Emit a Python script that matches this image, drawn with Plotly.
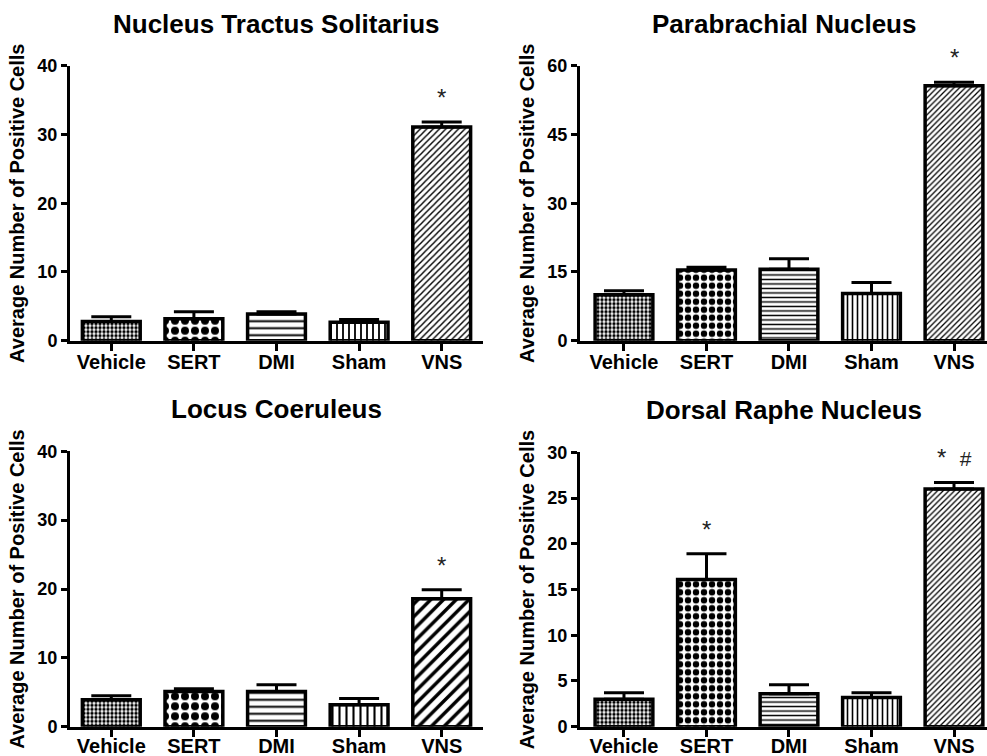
import plotly.graph_objects as go

categories = ["Vehicle", "SERT", "DMI", "Sham", "VNS"]

nts_mean = [2.8, 3.2, 3.9, 2.7, 31.1]
nts_sem = [0.7, 1.0, 0.3, 0.4, 0.7]
pbn_mean = [10.0, 15.4, 15.6, 10.3, 55.6]
pbn_sem = [0.9, 0.6, 2.3, 2.4, 0.8]
lc_mean = [3.9, 5.1, 5.1, 3.2, 18.6]
lc_sem = [0.6, 0.4, 1.0, 0.9, 1.3]
drn_mean = [3.0, 16.1, 3.6, 3.2, 26.0]
drn_sem = [0.7, 2.8, 1.0, 0.5, 0.7]

nts_sig = ["", "", "", "", "*"]
pbn_sig = ["", "", "", "", "*"]
lc_sig = ["", "", "", "", "*"]
drn_sig = ["", "*", "", "", "* #"]

titles = ["Nucleus Tractus Solitarius", "Parabrachial Nucleus",
          "Locus Coeruleus", "Dorsal Raphe Nucleus"]
nts_ticks = [0, 10, 20, 30, 40]
pbn_ticks = [0, 15, 30, 45, 60]
lc_ticks = [0, 10, 20, 30, 40]
drn_ticks = [0, 5, 10, 15, 20, 25, 30]
y_title = "Average Number of Positive Cells"

FONT = "Liberation Sans, Arial, sans-serif"
W, H = 987, 756

SHAPES = [".", ".", "-", "|", "/"]
COARSE = dict(size=[4, 10, 7, 6, 4.5], solid=[0.55, 0.5, 0.28, 0.3, 0.32])
FINE = dict(size=[4, 8, 4.5, 5, 4], solid=[0.55, 0.5, 0.32, 0.32, 0.32])
LCPAT = dict(size=[4, 10, 7, 7, 9], solid=[0.55, 0.5, 0.28, 0.3, 0.38])

panels = [
    dict(mean=nts_mean, sem=nts_sem, sig=nts_sig, ticks=nts_ticks, title=titles[0], pat=COARSE,
         xdom=[70 / W, 483 / W], xr=[-0.5, 4.5], ydom=[1 - 340.7 / H, 1 - 65.7 / H], so=-6),
    dict(mean=pbn_mean, sem=pbn_sem, sig=pbn_sig, ticks=pbn_ticks, title=titles[1], pat=FINE,
         xdom=[580 / W, 1.0], xr=[-0.533, 4.4], ydom=[1 - 340.7 / H, 1 - 65.7 / H], so=-6),
    dict(mean=lc_mean, sem=lc_sem, sig=lc_sig, ticks=lc_ticks, title=titles[2], pat=LCPAT,
         xdom=[70 / W, 483 / W], xr=[-0.5, 4.5], ydom=[1 - 726.7 / H, 1 - 451.3 / H], so=-8),
    dict(mean=drn_mean, sem=drn_sem, sig=drn_sig, ticks=drn_ticks, title=titles[3], pat=FINE,
         xdom=[580 / W, 1.0], xr=[-0.533, 4.4], ydom=[1 - 726.7 / H, 1 - 452.3 / H], so=-8),
]


def sig_markup(s):
    parts = []
    for tok in s.split(" "):
        if tok == "#":
            parts.append("<span style='font-size:21px'>#</span>")
        else:
            parts.append(tok)
    return "  ".join(parts)


fig = go.Figure()
layout = dict(template="none", width=W, height=H,
              margin=dict(l=0, r=0, t=0, b=0, autoexpand=False),
              paper_bgcolor="white", plot_bgcolor="white", showlegend=False,
              font=dict(family=FONT, color="black"), annotations=[])

for i, p in enumerate(panels):
    k = "" if i == 0 else str(i + 1)
    fig.add_trace(go.Bar(
        x=categories, y=p["mean"], width=0.7,
        xaxis="x" + k, yaxis="y" + k,
        marker=dict(color="white", line=dict(color="black", width=3.5),
                    pattern=dict(shape=SHAPES, size=p["pat"]["size"], solidity=p["pat"]["solid"],
                                 fgcolor="black", bgcolor="white", fgopacity=1, fillmode="overlay")),
        error_y=dict(type="data", symmetric=False, array=p["sem"],
                     arrayminus=[0] * len(p["sem"]), color="black", thickness=3, width=20),
    ))
    top = max(p["ticks"])
    layout["xaxis" + k] = dict(domain=p["xdom"], range=p["xr"], anchor="y" + k,
                               automargin=False,
                               showline=True, linecolor="black", linewidth=3,
                               ticks="outside", ticklen=7, tickwidth=3, tickcolor="black",
                               showgrid=False, zeroline=False, fixedrange=True,
                               tickfont=dict(family=FONT, size=20, weight="bold", color="black"))
    layout["yaxis" + k] = dict(domain=p["ydom"], range=[0, top], anchor="x" + k,
                               automargin=False,
                               tickvals=p["ticks"], showline=True, linecolor="black", linewidth=3,
                               ticks="outside", ticklen=6, tickwidth=3, tickcolor="black",
                               showgrid=False, zeroline=False,
                               tickfont=dict(family=FONT, size=18, weight="bold", color="black"),
                               title=dict(text=y_title, standoff=8,
                                          font=dict(family=FONT, size=20, weight="bold",
                                                    color="black")))
    cx = (p["xdom"][0] + p["xdom"][1]) / 2
    layout["annotations"].append(dict(
        text=p["title"], xref="paper", yref="paper", x=cx, y=p["ydom"][1] + 42 / H,
        xanchor="center", yanchor="middle", showarrow=False,
        font=dict(family=FONT, size=26, weight="bold", color="black")))
    for c, m, s, g in zip(categories, p["mean"], p["sem"], p["sig"]):
        if g:
            layout["annotations"].append(dict(
                text=sig_markup(g), x=c, y=m + s, xref="x" + k, yref="y" + k,
                xanchor="center", yanchor="bottom", yshift=9, showarrow=False,
                font=dict(family=FONT, size=24, color="#222222")))

fig.update_layout(**layout)
for i, p in enumerate(panels):
    name = "xaxis" if i == 0 else "xaxis" + str(i + 1)
    try:
        fig.layout[name].ticklabelstandoff = p["so"]
    except Exception:
        pass
fig.write_html("out.html")
